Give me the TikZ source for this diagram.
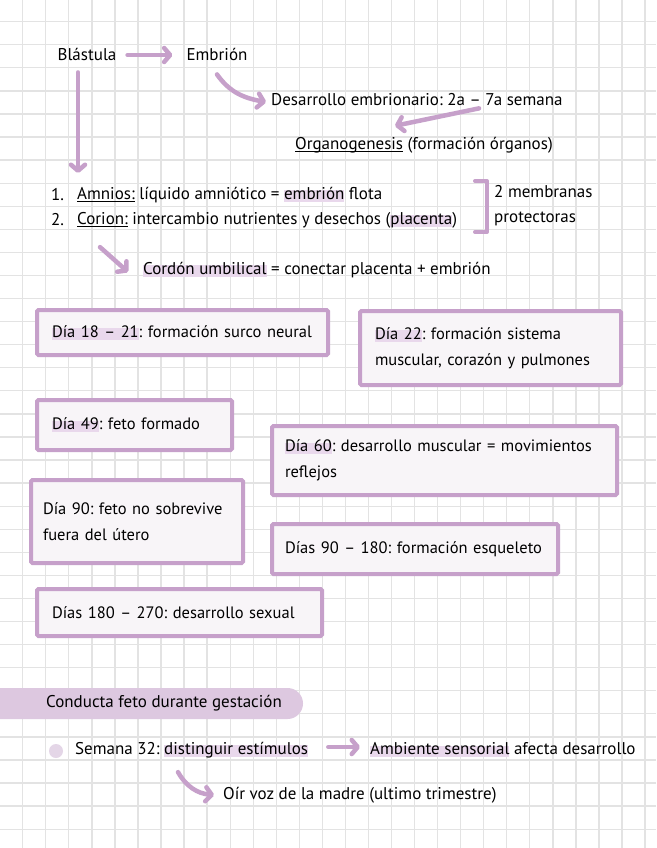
\documentclass[tikz,border=0pt]{standalone}
\usepackage{fontspec}
\setmainfont{PT Sans}
\usepackage{tikz}
\usetikzlibrary{arrows.meta,positioning}
\definecolor{lila}{HTML}{C6A0CA}
\definecolor{marca}{HTML}{E9D8EC}
\definecolor{caja}{HTML}{F8F5F8}
\definecolor{banda}{HTML}{DDC8E0}
\definecolor{punto}{HTML}{E4D6E7}
\definecolor{cuadro}{HTML}{E3E3E3}
\newcommand{\resalta}[1]{\setbox0\hbox{#1}\rlap{\color{marca}\rule[-2.5pt]{\wd0}{11.5pt}}\box0\relax}
\newcommand{\subraya}[1]{\setbox0\hbox{#1}\rlap{\rule[-3pt]{\wd0}{1.6pt}}\box0\relax}
\frenchspacing

\begin{document}
\begin{tikzpicture}[x=1pt, y=1pt, inner sep=1pt, font=\fontsize{17}{25}\selectfont,
  flecha/.style={draw=lila, line width=4.5pt, line cap=round, -{Straight Barb[length=6pt,width=14pt,round]}},
  dia/.style={draw=lila, line width=4pt, fill=caja, rounded corners=1.5pt, align=left, anchor=west,
    inner xsep=15pt, inner ysep=0pt, font=\fontsize{16.5}{26}\selectfont},
  txt/.style={anchor=west}]
\fill[white] (0,0) rectangle (656,-848);
\useasboundingbox (0,0) rectangle (656,-848);
\foreach \i in {0,...,27}
  \draw[cuadro, line width=1.3pt] ({22.7+23.05*\i},0) -- ({22.7+23.05*\i},-848);
\foreach \j in {0,...,35}
  \draw[cuadro, line width=1.3pt] (0,{-21.7-23.07*\j}) -- (656,{-21.7-23.07*\j});

\node (B) at (87,-54) {Blástula};
\node (E) at (217,-54) {Embrión};
\node[txt] (D) at (270,-100) {Desarrollo embrionario: 2a – 7a semana};
\node[txt] (O) at (294,-145) {\subraya{Organogenesis} (formación órganos)};
\node[txt] (N1) at (50,-195) {1.};
\node[txt] (I1) at (76,-195) {\subraya{Amnios:} líquido amniótico = \resalta{embrión} flota};
\node[txt] (N2) at (50,-220) {2.};
\node[txt] (I2) at (76,-220) {\subraya{Corion:} intercambio nutrientes y desechos (\resalta{placenta})};
\node[txt, align=left] (M) at (493,-206) {2 membranas\\protectoras};
\node[txt] (C) at (142,-270) {\resalta{Cordón umbilical} = conectar placenta + embrión};

\draw[flecha, shorten <=10pt, shorten >=13pt] ([yshift=-1pt]B.east) -- ([yshift=-1pt]E.west);
\draw[flecha] ([yshift=-13pt]E.south) to[out=-55, in=170] ([xshift=-4pt,yshift=-2pt]D.west);
\draw[flecha] ([xshift=209pt,yshift=-1pt]D.south west) -- ([xshift=101pt,yshift=10pt]O.north west);
\draw[flecha] ([xshift=-9pt,yshift=-11pt]B.south) -- ([xshift=2pt,yshift=13pt]I1.north west);
\draw[lila, line width=4pt, line cap=round, line join=round] (475,-181) -- (487,-181) -- (487,-232) -- (475,-232);
\draw[flecha] ([xshift=24pt,yshift=-18pt]I2.south west) -- ([xshift=-14pt,yshift=-2pt]C.west);

\node[dia, text width=261pt, minimum height=45pt] (d1) at (35,-332.5) {\mbox{\resalta{Día 18 – 21}: formación surco neural}};
\node[dia, text width=231pt, minimum height=74pt] (d2) at (358,-348) {\mbox{\resalta{Día 22}: formación sistema}\\\mbox{muscular, corazón y pulmones}};
\node[dia, text width=165pt, minimum height=50pt] (d3) at (35,-425) {\mbox{\resalta{Día 49}: feto formado}};
\node[dia, inner xsep=13pt, text width=319pt, minimum height=69pt] (d4) at (270,-460.5) {\mbox{\resalta{Día 60}: desarrollo muscular = movimientos}\\reflejos};
\node[dia, inner xsep=12pt, text width=188pt, minimum height=83pt] (d5) at (29,-521.5) {\mbox{Día 90: feto no sobrevive}\\\mbox{fuera del útero}};
\node[dia, inner xsep=13pt, text width=260pt, minimum height=50pt] (d6) at (270,-549) {\mbox{Días 90 – 180: formación esqueleto}};
\node[dia, text width=255pt, minimum height=47pt] (d7) at (35,-612.5) {\mbox{Días 180 – 270: desarrollo sexual}};

\fill[banda, rounded corners=15.5pt] (-20,-688) rectangle (303,-719);
\node[txt] (G) at (45,-703) {Conducta feto durante gestación};
\fill[punto] (56,-751) circle (7pt);
\node[txt] (S) at (74,-750) {Semana 32: \resalta{distinguir estímulos}};
\node[txt] (A) at (369,-750) {\resalta{Ambiente sensorial} afecta desarrollo};
\node[txt] (V) at (222,-795) {Oír voz de la madre (ultimo trimestre)};
\draw[flecha, shorten <=19pt, shorten >=9pt] ([yshift=3pt]S.east) -- ([yshift=3pt]A.west);
\draw[flecha] ([xshift=104pt,yshift=-13pt]S.south west) to[out=-60, in=175] ([xshift=-8pt]V.west);
\end{tikzpicture}
\end{document}
